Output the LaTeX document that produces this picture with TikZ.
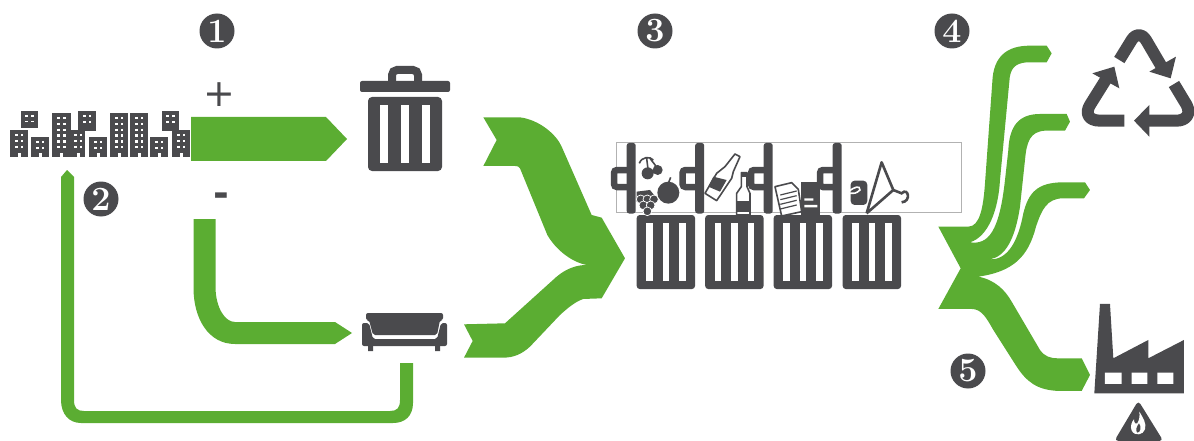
\documentclass[tikz,border=0pt]{standalone}
\usepackage{tikz}
\usepackage{xcolor}
\usepackage{fontspec}
\newfontfamily\signfont{DejaVu Sans}
\definecolor{flowgreen}{HTML}{5BAD32}
\definecolor{icongray}{HTML}{4A4A4D}
\tikzset{
  flow/.style={fill=flowgreen},
  icon/.style={fill=icongray},
  slot/.style={fill=white},
  numdot/.style={circle,fill=icongray,text=white,minimum size=35pt,inner sep=0pt,font=\fontsize{34}{34}\selectfont\bfseries},
  sign/.style={text=icongray,inner sep=0pt},
  zoomed/.style={shift={(#1)},scale=0.3333}
}
\begin{document}
\begin{tikzpicture}[x=1pt,y=-1pt]
\useasboundingbox (0,0) rectangle (1194,441);
% numbers and signs
\node[numdot] (one) at (217,31) {1};
\node[numdot] (two) at (101,199) {2};
\node[numdot] (three) at (655,31) {3};
\node[numdot] (four) at (952,31) {4};
\node[numdot] (five) at (968,371) {5};
\node[sign,font=\fontsize{38}{38}\selectfont\signfont] (plus) at (219,95) {+};
\node[sign,font=\fontsize{38}{38}\selectfont\signfont\bfseries] (minus) at (221,200) {-};
% city
\foreach \xa/\ya/\xb/\yb/\dr in {21/111/38/128/0,10/130/28/157/4,31/137/49/157/4,52/113/71/157/4,71/130/85/157/4,78/111/96/131/0,89/137/107/157/4,110/113/128/157/4,130/113/148/157/4,150/137/168/157/4,162/111/179/131/0,172/130/190/157/4} {
  \fill[icon] (\xa,\ya) rectangle (\xb,\yb);
  \pgfmathsetmacro{\wa}{\xa+0.5*(\xb-\xa)-2.8}
  \pgfmathsetmacro{\wb}{\xa+0.5*(\xb-\xa)+2.8}
  \pgfmathsetmacro{\wm}{\xa+0.5*(\xb-\xa)}
  \draw[white,line width=2.6pt,dash pattern=on 2.4pt off 3.4pt] (\wa,\ya+4) -- (\wa,\yb-7);
  \draw[white,line width=2.6pt,dash pattern=on 2.4pt off 3.4pt] (\wb,\ya+4) -- (\wb,\yb-7);
  \fill[slot] (\wm-1.5,\yb-\dr) rectangle (\wm+1.5,\yb);
}
\fill[flow] (191,117) -- (326,117) -- (347,139) -- (326,161) -- (191,161) -- cycle;
% trash can
\fill[icon,rounded corners=2pt] (360,81) rectangle (450,92);
\draw[icongray,line width=8pt,rounded corners=5pt] (392,84) -- (392,70) -- (418,70) -- (418,84);
\fill[icon,rounded corners=4pt] (368,97) -- (442,97) -- (442,171) -- (368,171) -- cycle;
\foreach \x in {380,401,422} \fill[slot] (\x,105) rectangle (\x+8,163);
% sofa
\fill[flow] (193.5,219) -- (215.5,219) -- (215.5,288) .. controls (216,308) and (225,322) .. (235,322) -- (335,322) -- (352,333) -- (335,344) -- (235,344) .. controls (208,344) and (193.5,318) .. (193.5,288) -- cycle;
\fill[icon,rounded corners=2pt] (366,313) -- (443,313) -- (443,320) -- (440,320) -- (437,335) -- (373,335) -- (369,320) -- (366,320) -- cycle;
\fill[icon,rounded corners=2pt] (362,346) -- (362,323) -- (369,323) -- (373,339) -- (437,339) -- (441,323) -- (447,323) -- (447,346) -- cycle;
\fill[icon] (368,345) rectangle (373,351) (435,345) rectangle (440,351);
% way back
\fill[flow] (67,170) -- (74,177) -- (74,400) .. controls (74,408) and (77,411) .. (84,411) -- (390,411) .. controls (397,411) and (400,408) .. (400,400) -- (400,363) -- (413,363) -- (413,403) .. controls (413,416) and (405,423) .. (393,423) -- (81,423) .. controls (69,423) and (61,414) .. (61,400) -- (61,177) -- cycle;
% flows to the bins
\begin{scope}[zoomed={460,105}]
  \fill[flow] (70,37) -- (180,37) .. controls (240,45) and (290,90) .. (305,125) -- (395,330) -- (425,338) -- (495,460) -- (425,580) -- (370,582) .. controls (345,590) and (320,612) .. (300,630) -- (210,725) .. controls (185,748) and (160,758) .. (130,758) -- (12,758) -- (38,708) -- (12,658) -- (135,655) -- (290,515) .. controls (320,490) and (350,480) .. (380,480) .. controls (330,470) and (285,430) .. (262,390) -- (180,190) .. controls (176,184) and (172,183) .. (165,183) -- (70,183) -- (110,105) -- cycle;
\end{scope}
% lids lying on their side over the bins
\draw[gray!60,fill=white,line width=.8pt] (616.7,142.7) rectangle (961,212.3);
\foreach \x in {0,68.5,137,206} {
  \fill[icon,rounded corners=3pt] (636.7+\x,215) rectangle (695+\x,289);
  \foreach \s in {646,662.7,679} \fill[slot] (\s+\x,223) rectangle (\s+\x+6.7,281);
  \fill[icon,rounded corners=2.5pt] (626.7+\x,143) rectangle (635.7+\x,213.5);
  \draw[icongray,line width=6.5pt,rounded corners=3pt] (628+\x,170) -- (614+\x,170) -- (614+\x,187) -- (628+\x,187);
}
% what goes in the bins
\begin{scope}[zoomed={600,130}]
  \draw[icongray,line width=1.6pt] (118,100) .. controls (125,80) and (150,78) .. (160,90) (140,85) -- (145,125) (150,85) -- (173,115);
  \fill[icon] (143,130) circle (18) (173,120) circle (15) (205,188) circle (33);
  \draw[icongray,line width=1.6pt] (205,160) -- (212,142);
  \fill[icon] (110,185) -- (150,180) -- (170,205) -- (110,215) -- cycle;
  \foreach \gx/\gy in {122,142,162}{\fill[icon,draw=white,line width=.7pt] (\gx,208) circle (13);}
  \foreach \gx/\gy in {130/226,152/226,142/244} \fill[icon,draw=white,line width=.7pt] (\gx,\gy) circle (13);
  \draw[icongray,fill=white,line width=1.6pt,line join=round] (405,72) -- (420,80) -- (400,125) -- (395,145) -- (350,212) -- (315,190) -- (350,130) -- (375,110) -- cycle;
  \fill[icon] (340,140) -- (380,150) -- (360,185) -- (325,170) -- cycle;
  \draw[icongray,fill=white,line width=1.6pt,line join=round] (424,128) -- (441,128) -- (441,170) -- (450,190) -- (450,255) -- (410,255) -- (410,190) -- (424,170) -- cycle;
  \fill[icon] (410,212) rectangle (450,245);
  \fill[icon] (424,128) rectangle (441,140);
  \draw[icongray,fill=white,line width=1.6pt,line join=round] (525,170) -- (575,158) -- (595,178) -- (605,245) -- (545,258) -- cycle;
  \foreach \ly in {0,14,28,42} \draw[icongray,line width=1.2pt] (541,195+\ly) -- (590,183+\ly);
  \fill[icon] (602,157) rectangle (660,255);
  \fill[slot] (613,205) rectangle (640,212) (613,225) rectangle (652,232);
  \fill[icon,rounded corners=4pt] (752,152) rectangle (802,225);
  \draw[white,line width=1.6pt] (745,185) .. controls (765,170) and (780,165) .. (780,180) .. controls (770,190) and (760,192) .. (750,190);
  \draw[icongray,line width=2.6pt,line join=round] (800,250) -- (845,97) -- (880,180) -- (800,250);
  \draw[icongray,line width=2.6pt] (880,180) -- (905,190) .. controls (925,170) and (935,215) .. (905,217);
\end{scope}
% flows out of the bins
\begin{scope}[zoomed={930,10}]
  \fill[flow] (350,107) -- (365,130) -- (350,157) -- (290,157) .. controls (255,160) and (240,175) .. (238,215) -- (210,510) .. controls (205,600) and (175,680) .. (120,697) .. controls (175,705) and (208,665) .. (225,510) -- (235,420) .. controls (238,350) and (265,312) .. (330,312) -- (410,312) -- (420,335) -- (405,362) -- (345,362) .. controls (300,365) and (290,395) .. (285,450) -- (270,590) .. controls (255,690) and (225,740) .. (180,748) .. controls (235,750) and (265,690) .. (280,610) .. controls (295,550) and (320,517) .. (400,517) -- (465,517) -- (480,540) -- (462,565) -- (400,565) .. controls (350,565) and (335,600) .. (318,650) .. controls (295,740) and (250,785) .. (145,800) .. controls (195,810) and (225,840) .. (245,875) -- (330,1020) .. controls (345,1040) and (360,1045) .. (385,1045) -- (455,1045) -- (480,1095) -- (455,1143) -- (385,1143) .. controls (320,1140) and (290,1115) .. (260,1070) -- (190,960) .. controls (170,925) and (155,897) .. (125,897) -- (25,897) -- (92,775) -- (25,650) -- (115,650) .. controls (150,650) and (160,590) .. (165,520) -- (187,215) .. controls (190,140) and (230,107) .. (300,107) -- cycle;
  % recycling sign
  \draw[icongray,line width=12pt,line join=round] (568,150) -- (605,90) .. controls (618,70) and (635,70) .. (648,90) -- (695,170);
  \fill[icon] (738,140) -- (722,205) -- (658,185) -- cycle;
  \draw[icongray,line width=12pt,line join=round] (732,222) -- (770,285) .. controls (785,315) and (765,332) .. (740,332) -- (650,332);
  \fill[icon] (658,285) -- (612,332) -- (658,380) -- cycle;
  \draw[icongray,line width=12pt,line join=round] (583,332) -- (510,332) .. controls (475,332) and (465,310) .. (480,285) -- (530,205);
  \fill[icon] (487,190) -- (553,170) -- (568,235) -- cycle;
  % factory
  \fill[icon] (510,882) -- (540,882) -- (550,1045) -- (655,990) -- (655,1045) -- (762,990) -- (762,1150) -- (493,1150) -- cycle;
  \fill[slot] (525,1088) rectangle (575,1122) (605,1088) rectangle (652,1122) (682,1088) rectangle (730,1122);
  % warning sign
  \fill[icon,rounded corners=4pt] (625,1172) -- (700,1293) -- (553,1293) -- cycle;
  \fill[slot] (628,1205) .. controls (640,1225) and (650,1240) .. (645,1258) .. controls (640,1275) and (615,1280) .. (605,1262) .. controls (600,1250) and (605,1235) .. (612,1228) .. controls (612,1240) and (618,1245) .. (622,1240) .. controls (628,1230) and (630,1218) .. (628,1205) -- cycle;
  \fill[icon] (627,1240) .. controls (635,1250) and (632,1268) .. (622,1268) .. controls (615,1262) and (620,1250) .. (627,1240) -- cycle;
\end{scope}
\end{tikzpicture}
\end{document}
